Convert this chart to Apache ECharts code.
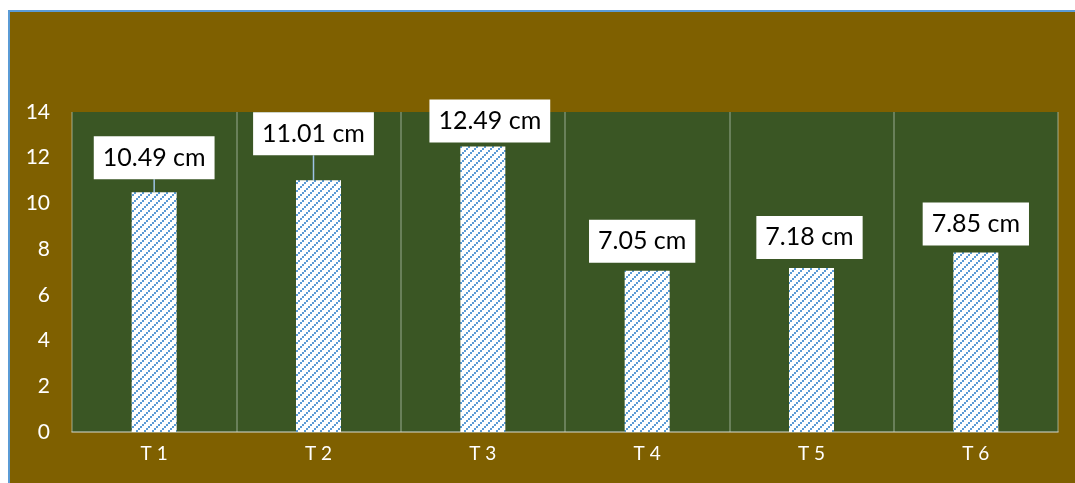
<!DOCTYPE html>
<html>
<head>
<meta charset="utf-8">
<script src="https://cdn.jsdelivr.net/npm/echarts@6/dist/echarts.min.js"></script>
<style>
  html, body { margin: 0; padding: 0; background: #ffffff; }
  #frame {
    position: absolute; left: 8px; top: 10px; right: 0; bottom: 0;
    background: #7F6000;
    border-top: 2px solid #5B9BD5; border-left: 2px solid #5B9BD5;
  }
  #chart { position: absolute; left: 0; top: 0; width: 1075px; height: 483px; }
</style>
</head>
<body>
<div id="frame"></div>
<div id="chart"></div>
<script>
// Treatments and measured height (cm)
const categories = ['T 1', 'T 2', 'T 3', 'T 4', 'T 5', 'T 6'];
const heights = [10.49, 11.01, 12.49, 7.05, 7.18, 7.85];
const yTicks = { min: 0, max: 14, step: 2 };

// Small nudges for the value callouts, in px [dx, dy]
const labelNudge = [[0, -5], [-5, -17], [7, 4], [-5, 0], [-2, -1], [0, 1]];
const withLeader = [true, true, false, false, false, false];

// Hatched fill: blue diagonal steps of 2px blocks on white
function hatchPattern() {
  const size = 8;
  const c = document.createElement('canvas');
  c.width = size; c.height = size;
  const g = c.getContext('2d');
  g.fillStyle = '#ffffff';
  g.fillRect(0, 0, size, size);
  g.fillStyle = '#5B9BD5';
  for (let bx = 0; bx < size / 2; bx++) {
    for (let by = 0; by < size / 2; by++) {
      if ((bx + by) % 4 === 3) g.fillRect(bx * 2, by * 2, 2, 2);
    }
  }
  return c;
}

const chart = echarts.init(document.getElementById('chart'), null, { renderer: 'canvas' });

const lineColor = 'rgba(200,210,200,0.45)';

chart.setOption({
  backgroundColor: 'transparent',
  animation: false,
  grid: {
    left: 72, right: 17, top: 112, bottom: 51,
    show: true, backgroundColor: '#3A5624', borderWidth: 0
  },
  xAxis: {
    type: 'category',
    data: categories,
    boundaryGap: true,
    axisTick: { show: false },
    axisLine: { show: true, lineStyle: { color: 'rgba(210,215,205,0.7)', width: 1.5 } },
    splitLine: { show: true, interval: 0, lineStyle: { color: lineColor, width: 1.5 } },
    axisLabel: { color: '#ffffff', fontFamily: 'Lato', fontSize: 19, margin: 12, interval: 0 }
  },
  yAxis: {
    type: 'value',
    min: yTicks.min, max: yTicks.max, interval: yTicks.step,
    axisLine: { show: false },
    axisTick: { show: false },
    splitLine: { show: false },
    axisLabel: { color: '#ffffff', fontFamily: 'Lato', fontSize: 21, margin: 22 }
  },
  series: [{
    type: 'bar',
    barWidth: 45,
    itemStyle: { color: { image: hatchPattern(), repeat: 'repeat' } },
    data: heights.map((v, i) => ({
      value: v,
      labelLine: { show: withLeader[i] }
    })),
    label: {
      show: true,
      position: 'top',
      distance: 8,
      formatter: '{c} cm',
      color: '#000000',
      fontFamily: 'Lato',
      fontSize: 25,
      lineHeight: 27,
      backgroundColor: '#ffffff',
      padding: [8, 9, 8, 9]
    },
    labelLine: {
      show: true,
      lineStyle: { color: '#9DC3E6', width: 1.5 }
    },
    labelLayout: function (p) {
      const n = labelNudge[p.dataIndex];
      return { dx: n[0], dy: n[1] };
    }
  }]
});
</script>
</body>
</html>
